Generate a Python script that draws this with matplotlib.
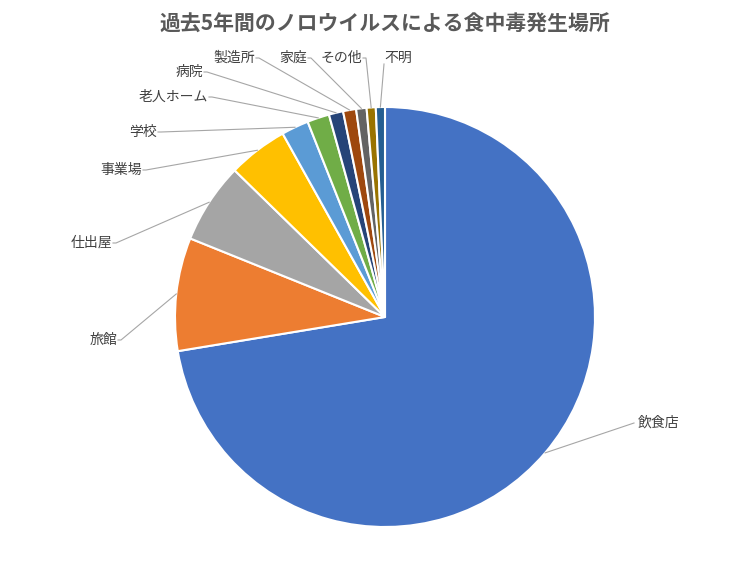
import numpy as np
import matplotlib.pyplot as plt

plt.rcParams['font.family'] = 'Noto Sans CJK JP'

labels = ['飲食店', '旅館', '仕出屋', '事業場', '学校', '老人ホーム', '病院', '製造所', '家庭', 'その他', '不明']
values = [72.4, 8.7, 6.2, 4.6, 2.1, 1.7, 1.1, 1.0, 0.8, 0.7, 0.7]
colors = ['#4472C4', '#ED7D31', '#A5A5A5', '#FFC000', '#5B9BD5', '#70AD47',
          '#264478', '#9E480E', '#636363', '#997300', '#255E91']
# label anchor positions (pixels) and alignment
label_pos = [(638, 423, 'left'), (117, 340, 'right'), (112, 243, 'right'), (142, 170, 'right'),
             (157, 132, 'right'), (208, 97, 'right'), (203, 72, 'right'), (255, 58, 'right'),
             (307, 58, 'right'), (362, 58, 'right'), (392, 58, 'center')]

fig = plt.figure(figsize=(7.56, 5.67), dpi=100)
ax = fig.add_axes([0, 0, 1, 1])
cx, cy, r = 385, 317, 210
wedges, _ = ax.pie(values, colors=colors, center=(cx, cy), radius=r, startangle=-90,
                   counterclock=True, wedgeprops=dict(edgecolor='white', linewidth=1.5))
ax.set_xlim(0, 756)
ax.set_ylim(567, 0)
ax.set_aspect('equal')
ax.axis('off')

for w, lab, (tx, ty, ha) in zip(wedges, labels, label_pos):
    a = np.deg2rad((w.theta1 + w.theta2) / 2)
    ex, ey = cx + r * np.cos(a), cy + r * np.sin(a)
    if ha == 'left':
        ax.plot([ex, tx - 4], [ey, ty], color='#A6A6A6', lw=0.8)
        ax.text(tx, ty, lab, ha='left', va='center', fontsize=10, color='#404040')
    elif ha == 'right':
        ax.plot([ex, tx + 4, tx + 1], [ey, ty, ty], color='#A6A6A6', lw=0.8)
        ax.text(tx, ty, lab, ha='right', va='center', fontsize=10, color='#404040')
    else:
        ax.plot([ex, tx - 8], [ey, ty + 6], color='#A6A6A6', lw=0.8)
        ax.text(tx + 6, ty, lab, ha='center', va='center', fontsize=10, color='#404040')

ax.text(385, 24, '過去5年間のノロウイルスによる食中毒発生場所', ha='center', va='center',
        fontsize=15, fontweight='bold', color='#595959')

fig.savefig('out.png', dpi=100)
